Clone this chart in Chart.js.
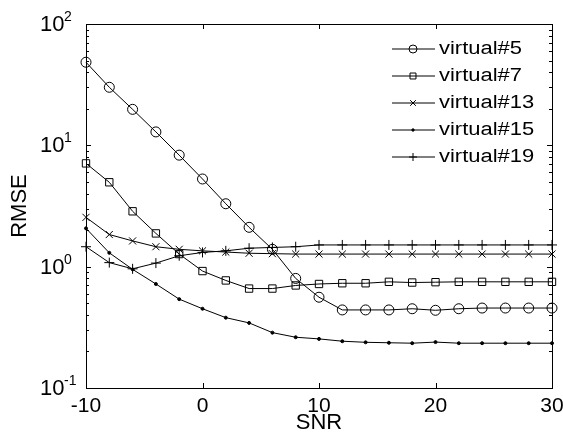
<!DOCTYPE html>
<html>
<head>
<meta charset="utf-8">
<script src="https://cdn.jsdelivr.net/npm/chart.js@4.4.0/dist/chart.umd.min.js"></script>
<style>
    body { margin: 0; background: #fff; }
    #wrap { width: 563px; height: 442px; }
</style>
</head>
<body>
<div id="wrap"><canvas id="rmseChart" width="563" height="442"></canvas></div>
<script>
const snr = [-10, -8, -6, -4, -2, 0, 2, 4, 6, 8, 10, 12, 14, 16, 18, 20, 22, 24, 26, 28, 30];

const virtual5 = [48.4, 30.1, 19.8, 12.9, 8.3, 5.28, 3.3, 2.11, 1.39, 0.8, 0.56, 0.44, 0.44, 0.44, 0.45, 0.437, 0.45, 0.456, 0.456, 0.456, 0.456];
const virtual7 = [7.1, 4.96, 2.86, 1.88, 1.27, 0.92, 0.77, 0.66, 0.66, 0.7, 0.72, 0.73, 0.73, 0.75, 0.74, 0.745, 0.75, 0.75, 0.75, 0.75, 0.75];
const virtual13 = [2.55, 1.84, 1.63, 1.46, 1.39, 1.35, 1.32, 1.29, 1.28, 1.27, 1.27, 1.27, 1.27, 1.27, 1.27, 1.27, 1.27, 1.27, 1.27, 1.27, 1.27];
const virtual15 = [2.07, 1.3, 0.95, 0.72, 0.54, 0.45, 0.38, 0.344, 0.286, 0.262, 0.254, 0.243, 0.238, 0.236, 0.234, 0.239, 0.234, 0.234, 0.234, 0.234, 0.234];
const virtual19 = [1.46, 1.08, 0.96, 1.07, 1.23, 1.31, 1.35, 1.42, 1.44, 1.46, 1.51, 1.51, 1.51, 1.51, 1.51, 1.51, 1.51, 1.51, 1.51, 1.51, 1.51];

const seriesNames = ['virtual#5', 'virtual#7', 'virtual#13', 'virtual#15', 'virtual#19'];
const snrTicks = [-10, 0, 10, 20, 30];
const decades = [0.1, 1, 10, 100];
const decadeExp = ['-1', '0', '1', '2'];

const FONT = '"Liberation Sans", Arial, Helvetica, sans-serif';

// marker look per series: [pointStyle, radius, legend radius, filled]
const markers = [
    ['circle', 5, 4, false],
    ['rect', 5.2, 4.2, false],
    ['crossRot', 5, 4, false],
    ['circle', 1.5, 1.2, true],
    ['cross', 5, 4, false]
];

function makeSeries(i, values) {
    const [style, radius, , filled] = markers[i];
    return {
        label: seriesNames[i],
        data: snr.map((s, k) => ({ x: s, y: values[k] })),
        borderColor: '#000',
        borderWidth: 1,
        pointStyle: style,
        pointRadius: radius,
        pointHoverRadius: radius,
        pointBorderColor: '#000',
        pointBorderWidth: 1,
        pointBackgroundColor: filled ? '#000' : 'rgba(0,0,0,0)',
        tension: 0,
        clip: false
    };
}

// box, inner ticks and the 10^n tick labels
const frame = {
    id: 'frame',
    afterDatasetsDraw(chart) {
        const { ctx, chartArea: a, scales: { x, y } } = chart;
        ctx.save();
        ctx.strokeStyle = '#000';
        ctx.lineWidth = 1;
        ctx.strokeRect(a.left + 0.5, a.top + 0.5, a.right - a.left, a.bottom - a.top);
        ctx.beginPath();
        snrTicks.forEach(v => {
            const px = Math.round(x.getPixelForValue(v)) + 0.5;
            ctx.moveTo(px, a.bottom);
            ctx.lineTo(px, a.bottom - 5);
            ctx.moveTo(px, a.top);
            ctx.lineTo(px, a.top + 5);
        });
        decades.forEach(d => {
            for (let m = 1; m < 10; m++) {
                const v = d * m;
                if (v > 100.0001) break;
                const py = Math.round(y.getPixelForValue(v)) + 0.5;
                const len = m === 1 ? 5 : 3;
                ctx.moveTo(a.left, py);
                ctx.lineTo(a.left + len, py);
                ctx.moveTo(a.right, py);
                ctx.lineTo(a.right - len, py);
            }
        });
        ctx.stroke();

        ctx.fillStyle = '#000';
        ctx.textBaseline = 'middle';
        ctx.textAlign = 'left';
        decades.forEach((d, i) => {
            const py = y.getPixelForValue(d);
            ctx.font = '22px ' + FONT;
            ctx.fillText('10', 40, py + 1);
            ctx.font = '14px ' + FONT;
            ctx.fillText(decadeExp[i], 64, py - 7);
        });
        ctx.restore();
    }
};

const lineLegend = {
    id: 'lineLegend',
    afterDraw(chart) {
        const { ctx } = chart;
        ctx.save();
        chart.data.datasets.forEach((ds, i) => {
            const rowY = 48.5 + i * 27;
            ctx.strokeStyle = '#000';
            ctx.lineWidth = 1;
            ctx.beginPath();
            ctx.moveTo(392, rowY + 0.5);
            ctx.lineTo(435, rowY + 0.5);
            ctx.stroke();
            const [style, , lr, filled] = markers[i];
            ctx.fillStyle = filled ? '#000' : 'rgba(0,0,0,0)';
            Chart.helpers.drawPoint(ctx, { pointStyle: style, radius: lr, rotation: 0, borderWidth: 1 }, 413, rowY + 0.5);
            ctx.fillStyle = '#000';
            ctx.font = '18px ' + FONT;
            ctx.textBaseline = 'middle';
            ctx.translate(439, rowY + 1);
            ctx.scale(1.22, 1);
            ctx.fillText(ds.label, 0, 0);
            ctx.setTransform(1, 0, 0, 1, 0, 0);
        });
        ctx.restore();
    }
};

const ctx = document.getElementById('rmseChart').getContext('2d');
new Chart(ctx, {
    type: 'line',
    data: {
        datasets: [
            makeSeries(0, virtual5),
            makeSeries(1, virtual7),
            makeSeries(2, virtual13),
            makeSeries(3, virtual15),
            makeSeries(4, virtual19)
        ]
    },
    options: {
        responsive: false,
        animation: false,
        devicePixelRatio: 1,
        layout: { padding: { top: 24, right: 11, left: 0, bottom: 0 } },
        plugins: {
            legend: { display: false },
            tooltip: { enabled: false }
        },
        scales: {
            x: {
                type: 'linear',
                min: -10,
                max: 30,
                ticks: { stepSize: 10, color: '#000', font: { size: 21, family: FONT }, padding: 6, maxRotation: 0 },
                grid: { display: false, drawTicks: false },
                border: { display: false },
                title: { display: true, text: 'SNR', color: '#000', font: { size: 22, family: FONT }, padding: { top: 0, bottom: 6 } },
                afterFit(s) {
                    s.height = 54;
                    s.paddingLeft = 0;
                    s.paddingRight = 0;
                }
            },
            y: {
                type: 'logarithmic',
                min: 0.1,
                max: 100,
                ticks: { display: false },
                grid: { display: false, drawTicks: false },
                border: { display: false },
                title: { display: true, text: 'RMSE', color: '#000', font: { size: 22, family: FONT }, padding: { top: 7, bottom: 0 } },
                afterFit(s) {
                    s.width = 86;
                    s.paddingTop = 0;
                    s.paddingBottom = 0;
                }
            }
        }
    },
    plugins: [frame, lineLegend]
});
</script>
</body>
</html>
